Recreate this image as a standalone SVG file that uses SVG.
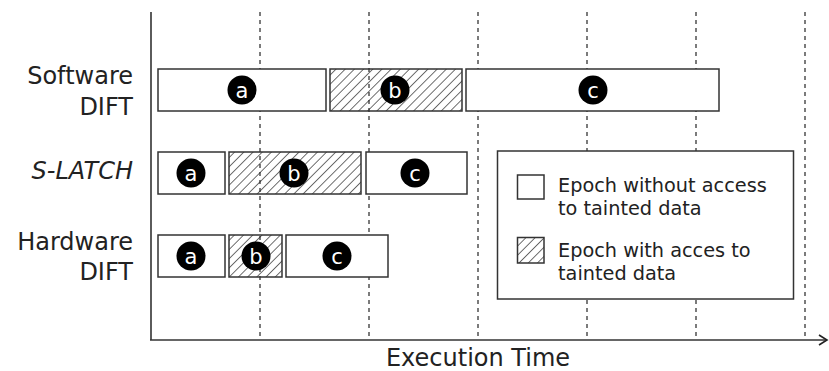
<svg xmlns="http://www.w3.org/2000/svg" width="829" height="371" viewBox="0 0 829 371">
<defs>
<pattern id="hatch" patternUnits="userSpaceOnUse" width="6.5" height="6.5" patternTransform="rotate(45)">
<line x1="0" y1="0" x2="0" y2="6.5" stroke="#222" stroke-width="1.3"/>
</pattern>
<marker id="arr" markerWidth="12" markerHeight="12" refX="10" refY="6" orient="auto" markerUnits="userSpaceOnUse">
<path d="M2,1 L10,6 L2,11" fill="none" stroke="#222" stroke-width="1.6"/>
</marker>
<style>
.grid{stroke:#444;stroke-width:1.4;stroke-dasharray:4,4;fill:none}
.axis{stroke:#333;stroke-width:1.6;fill:none}
.box{fill:#fff;stroke:#333;stroke-width:1.5}
.hbox{fill:url(#hatch);stroke:#333;stroke-width:1.5}
.dot{fill:#000}
.lt{font-family:"DejaVu Sans",sans-serif;font-size:21px;fill:#fff;text-anchor:middle}
.lbl{font-family:"DejaVu Sans",sans-serif;font-size:24px;fill:#222;text-anchor:end}
.leg{font-family:"DejaVu Sans",sans-serif;font-size:19.3px;fill:#222}
</style>
</defs>
<rect width="829" height="371" fill="#fff"/>
<g id="grid">
<line class="grid" x1="260" y1="12" x2="260" y2="339"/>
<line class="grid" x1="369" y1="12" x2="369" y2="339"/>
<line class="grid" x1="478" y1="12" x2="478" y2="339"/>
<line class="grid" x1="587" y1="12" x2="587" y2="339"/>
<line class="grid" x1="696" y1="12" x2="696" y2="339"/>
<line class="grid" x1="805" y1="12" x2="805" y2="339"/>
</g>
<g id="axes">
<line class="axis" x1="151" y1="12" x2="151" y2="340"/>
<line class="axis" x1="150" y1="340" x2="827" y2="340" marker-end="url(#arr)"/>
<text x="478" y="366" font-family="DejaVu Sans, sans-serif" font-size="24" fill="#222" text-anchor="middle">Execution Time</text>
</g>
<g id="labels">
<text class="lbl" x="133" y="84">Software</text>
<text class="lbl" x="133" y="115">DIFT</text>
<text class="lbl" x="133" y="179" font-style="italic">S-LATCH</text>
<text class="lbl" x="133" y="250">Hardware</text>
<text class="lbl" x="133" y="280">DIFT</text>
</g>
<g id="sw-a"><rect class="box" x="158" y="69" width="168" height="42"/><circle class="dot" cx="242" cy="90" r="14.5"/><text class="lt" x="242" y="97.5">a</text></g>
<g id="sw-b"><rect class="hbox" x="330" y="69" width="132" height="42"/><circle class="dot" cx="395" cy="90" r="14.5"/><text class="lt" x="395" y="97.5">b</text></g>
<g id="sw-c"><rect class="box" x="466" y="69" width="253" height="42"/><circle class="dot" cx="593" cy="90" r="14.5"/><text class="lt" x="593" y="97.5">c</text></g>
<g id="sl-a"><rect class="box" x="158" y="152" width="67" height="42"/><circle class="dot" cx="191" cy="173" r="14.5"/><text class="lt" x="191" y="180.5">a</text></g>
<g id="sl-b"><rect class="hbox" x="229" y="152" width="132" height="42"/><circle class="dot" cx="294" cy="173" r="14.5"/><text class="lt" x="294" y="180.5">b</text></g>
<g id="sl-c"><rect class="box" x="366" y="152" width="101" height="42"/><circle class="dot" cx="415" cy="173" r="14.5"/><text class="lt" x="415" y="180.5">c</text></g>
<g id="hw-a"><rect class="box" x="158" y="235" width="67" height="42"/><circle class="dot" cx="191" cy="256" r="14.5"/><text class="lt" x="191" y="263.5">a</text></g>
<g id="hw-b"><rect class="hbox" x="229" y="235" width="53" height="42"/><circle class="dot" cx="256" cy="256" r="14.5"/><text class="lt" x="256" y="263.5">b</text></g>
<g id="hw-c"><rect class="box" x="286" y="235" width="102" height="42"/><circle class="dot" cx="337" cy="256" r="14.5"/><text class="lt" x="337" y="263.5">c</text></g>
<g id="legend">
<rect x="497.5" y="151" width="296" height="148" fill="#fff" stroke="#333" stroke-width="1.5"/>
<rect class="box" x="517.5" y="175" width="26.5" height="24"/>
<rect class="hbox" x="517.5" y="237.5" width="26.5" height="25.5"/>
<text class="leg" x="558" y="192">Epoch without access</text>
<text class="leg" x="558" y="215">to tainted data</text>
<text class="leg" x="558" y="257">Epoch with acces to</text>
<text class="leg" x="558" y="280">tainted data</text>
</g>
</svg>
